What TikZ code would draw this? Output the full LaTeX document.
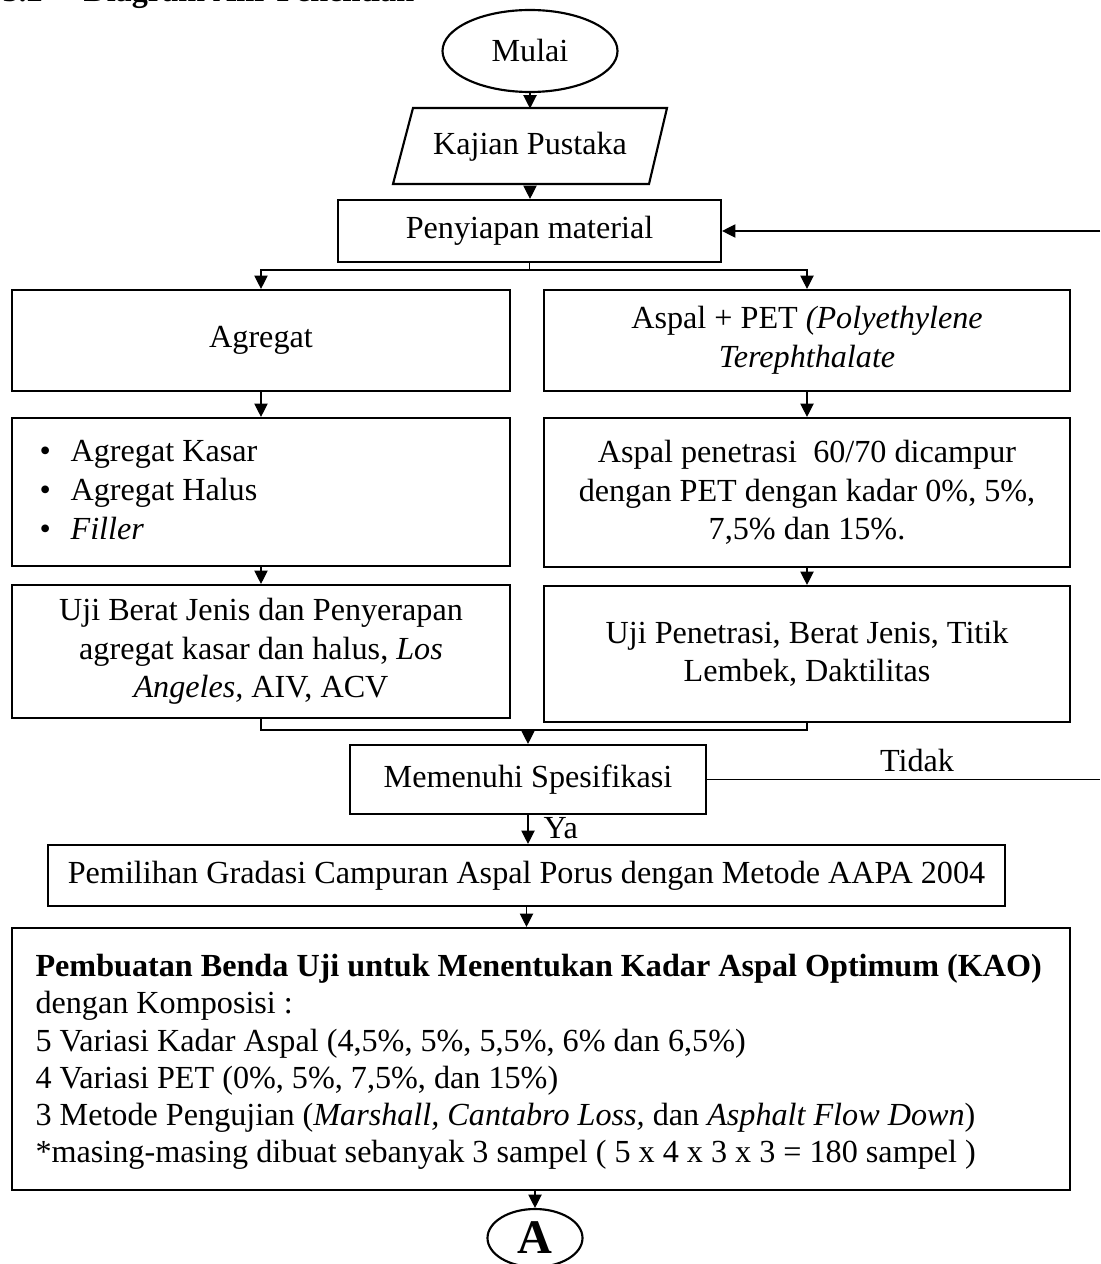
\documentclass[tikz,border=0pt]{standalone}
\usepackage{fontspec}
\setmainfont{Liberation Serif}
\usetikzlibrary{shapes.geometric,arrows.meta}
\begin{document}
\begin{tikzpicture}[x=0.373pt,y=-0.373pt,
  txt/.style={font=\fontsize{12}{14.4}\selectfont},
  box/.style={draw, line width=0.8pt, rectangle, inner sep=0pt, align=center, txt},
  arr/.style={line width=0.45pt, -{Triangle[length=5pt,width=5pt]}},
  ln/.style={line width=0.45pt},
  lbl/.style={txt, inner sep=0pt}]
\useasboundingbox (0,0) rectangle (1100,1264);

% title (cropped at the top, as in the reference)
\node[lbl, font=\fontsize{12}{14.4}\selectfont\bfseries, anchor=base west] (t1) at (2,2) {3.2};
\node[lbl, font=\fontsize{12}{14.4}\selectfont\bfseries, anchor=base west] (t2) at (83,2) {Diagram Alir Penelitian};

% nodes
\node[box, ellipse, minimum width={175*0.373pt}, minimum height={82*0.373pt}] (mulai) at (530,51) {Mulai};

\draw[line width=0.8pt] (413,108) -- (667,108) -- (649,184) -- (393,184) -- cycle;
\node[lbl, minimum width={230*0.373pt}, minimum height={76*0.373pt}] (kp) at (530,147) {Kajian Pustaka};

\node[box, minimum width={383*0.373pt}, minimum height={62*0.373pt}] (pm) at (529.5,231) {Penyiapan material};

\node[box, minimum width={498*0.373pt}, minimum height={101*0.373pt}] (ag) at (261,340.5) {Agregat};
\node[box, minimum width={526*0.373pt}, minimum height={101*0.373pt}] (ap) at (807,340.5)
  {Aspal + PET \textit{(Polyethylene}\\ \textit{Terephthalate}};

\node[box, minimum width={498*0.373pt}, minimum height={148*0.373pt}] (bl) at (261,492) {};
\node[lbl, anchor=west, align=left] (bltxt) at (39,490)
  {\makebox[11.6pt][l]{•}Agregat Kasar\\ \makebox[11.6pt][l]{•}Agregat Halus\\ \makebox[11.6pt][l]{•}\textit{Filler}};

\node[box, minimum width={526*0.373pt}, minimum height={149*0.373pt}] (pc) at (807,492.5)
  {Aspal penetrasi\ \ 60/70 dicampur\\ dengan PET dengan kadar 0\%, 5\%,\\ 7,5\% dan 15\%.};

\node[box, minimum width={498*0.373pt}, minimum height={133*0.373pt}] (ub) at (261,651.5)
  {Uji Berat Jenis dan Penyerapan\\ agregat kasar dan halus, \textit{Los}\\ \textit{Angeles,} AIV, ACV};

\node[box, minimum width={526*0.373pt}, minimum height={136*0.373pt}] (up) at (807,654)
  {Uji Penetrasi, Berat Jenis, Titik\\ Lembek, Daktilitas};

\node[box, minimum width={356*0.373pt}, minimum height={69*0.373pt}] (ms) at (528,779.5) {Memenuhi Spesifikasi};

\node[box, minimum width={957*0.373pt}, minimum height={61*0.373pt}] (pg) at (526.5,875.5)
  {Pemilihan Gradasi Campuran Aspal Porus dengan Metode AAPA 2004};

\node[box, minimum width={1058*0.373pt}, minimum height={262*0.373pt}] (kao) at (541,1059) {};
\node[lbl, anchor=west, align=left, font=\fontsize{12}{13.9}\selectfont] (kaotxt) at (35,1062)
  {\textbf{Pembuatan Benda Uji untuk Menentukan Kadar Aspal Optimum (KAO)}\\
   dengan Komposisi :\\
   5 Variasi Kadar Aspal (4,5\%, 5\%, 5,5\%, 6\% dan 6,5\%)\\
   4 Variasi PET (0\%, 5\%, 7,5\%, dan 15\%)\\
   3 Metode Pengujian (\textit{Marshall, Cantabro Loss,} dan \textit{Asphalt Flow Down})\\
   *masing-masing dibuat sebanyak 3 sampel ( 5 x 4 x 3 x 3 = 180 sampel )};

\node[box, ellipse, minimum width={95*0.373pt}, minimum height={58*0.373pt}, font=\fontsize{18}{22}\selectfont\bfseries] (A) at (535,1238) {A};

\node[lbl] (tidak) at (917,760) {Tidak};
\node[lbl, anchor=west] (ya) at (543,828) {Ya};

% connectors
\draw[arr] (mulai.south) -- (kp.north);
\draw[arr] (kp.south) -- (kp.south |- pm.north);
\coordinate (fb) at (1100,231);
\draw[arr] (fb) -- (pm.east);
\coordinate (split) at (529.5,270);
\draw[ln] (pm.south) -- (split);
\draw[arr] (split) -| (ag.north);
\draw[arr] (split) -| (ap.north);
\draw[arr] (ag.south) -- (bl.north);
\draw[arr] (ap.south) -- (pc.north);
\draw[arr] (bl.south) -- (ub.north);
\draw[arr] (pc.south) -- (up.north);
\coordinate (merge) at (528,730);
\draw[ln] (ub.south) |- (merge);
\draw[ln] (up.south) |- (merge);
\draw[arr] (merge) -- (ms.north);
\coordinate (tid) at (1100,779.5);
\draw[ln] (ms.east) -- (tid);
\draw[arr] (ms.south) -- (ms.south |- pg.north);
\draw[arr] (pg.south) -- (pg.south |- kao.north);
\draw[arr] (A.north |- kao.south) -- (A.north);
\end{tikzpicture}
\end{document}
